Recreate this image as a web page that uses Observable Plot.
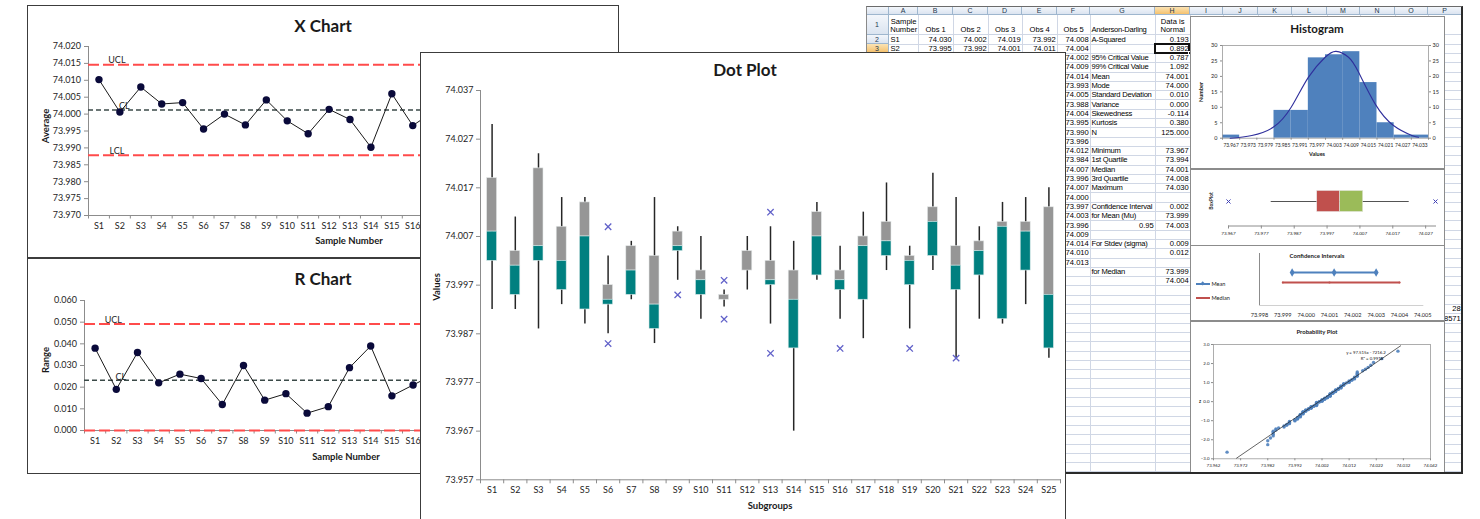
<!DOCTYPE html>
<html>
<head>
<meta charset="utf-8">
<title>SPC charts</title>
<script src="https://cdn.jsdelivr.net/npm/d3@7"></script>
<script src="https://cdn.jsdelivr.net/npm/@observablehq/plot@0.6"></script>
<style>
html,body{margin:0;padding:0;background:#fff;}
body{position:relative;width:1480px;height:519px;overflow:hidden;font-family:Lato,"Noto Sans",sans-serif;color:#1a1a1a;}
.panel{position:absolute;background:#fff;overflow:hidden;}
.panel>svg{position:absolute;left:0;top:0;}
.bd{position:absolute;left:0;top:0;right:0;bottom:0;box-sizing:border-box;pointer-events:none;}
.lbl{position:absolute;white-space:nowrap;line-height:1;transform:translate(-50%,-50%);}
.lbl.rot{transform:translate(-50%,-50%) rotate(-90deg);}
.lbl.lft{transform:translate(0,-50%);}
#sheet{position:absolute;left:866px;top:6.5px;width:596px;height:466.5px;overflow:hidden;background:#fff;font-family:"Liberation Sans",Arial,sans-serif;font-size:7.6px;color:#000;z-index:1;}
#sheet div{position:absolute;box-sizing:border-box;}
</style>
</head>
<body>
<div id="sheet"></div>
<script>
// ================= DATA =================
const subgroups = ["S1","S2","S3","S4","S5","S6","S7","S8","S9","S10","S11","S12","S13","S14","S15","S16","S17","S18","S19","S20","S21","S22","S23","S24","S25"];
// the control charts show tick labels only for the samples left of the overlapping Dot Plot
const controlTickLabels = ["S1","S2","S3","S4","S5","S6","S7","S8","S9","S10","S11","S12","S13","S14","S15","S16"];

// X chart (subgroup averages) and R chart (subgroup ranges)
const xbarAverages = [74.0102, 74.0006, 74.0080, 74.0030, 74.0034, 73.9956, 74.0000, 73.9968, 74.0042, 73.9980, 73.9942, 74.0014, 73.9984, 73.9902, 74.0060, 73.9966, 74.0008, 74.0074, 73.9982, 74.0092, 73.9998, 74.0016, 74.0024, 74.0052, 73.9982];
const rangeValues = [0.038, 0.019, 0.036, 0.022, 0.026, 0.024, 0.012, 0.030, 0.014, 0.017, 0.008, 0.011, 0.029, 0.039, 0.016, 0.021, 0.026, 0.018, 0.021, 0.020, 0.033, 0.019, 0.025, 0.022, 0.035];
const limitNames = ["UCL", "CL", "LCL"];
const xbarLimits = [74.0146, 74.0012, 73.9878];
const rangeLimits = [0.0492, 0.0232, 0.0];
const xbarTicks = [73.970, 73.975, 73.980, 73.985, 73.990, 73.995, 74.000, 74.005, 74.010, 74.015, 74.020];
const rangeTicks = [0.000, 0.010, 0.020, 0.030, 0.040, 0.050, 0.060];

// Dot plot (box per subgroup)
const dotWhiskerHigh = [74.030, 74.011, 74.024, 74.015, 74.015, 74.003, 74.006, 74.015, 74.009, 74.007, 73.996, 74.007, 74.009, 74.006, 74.014, 74.005, 74.012, 74.018, 74.005, 74.020, 74.015, 74.009, 74.014, 74.015, 74.017];
const dotQ3 = [74.019, 74.004, 74.021, 74.009, 74.014, 73.997, 74.005, 74.003, 74.008, 74.000, 73.995, 74.004, 74.002, 74.000, 74.012, 74.000, 74.007, 74.010, 74.003, 74.013, 74.005, 74.006, 74.010, 74.010, 74.013];
const dotMedian = [74.008, 74.001, 74.005, 74.002, 74.007, 73.994, 74.000, 73.993, 74.005, 73.998, 73.994, 74.000, 73.998, 73.994, 74.007, 73.998, 74.005, 74.006, 74.002, 74.010, 74.001, 74.004, 74.009, 74.008, 73.995];
const dotQ1 = [74.002, 73.995, 74.002, 73.996, 73.992, 73.993, 73.995, 73.988, 74.004, 73.995, 73.994, 74.000, 73.997, 73.984, 73.999, 73.996, 73.994, 74.003, 73.997, 74.003, 73.996, 73.999, 73.990, 74.000, 73.984];
const dotWhiskerLow = [73.992, 73.992, 73.988, 73.993, 73.989, 73.987, 73.994, 73.985, 73.998, 73.990, 73.9925, 73.996, 73.989, 73.967, 73.998, 73.990, 73.986, 74.000, 73.988, 74.000, 73.982, 73.990, 73.989, 73.993, 73.982];
const outlierSubgroups = ["S6", "S6", "S9", "S11", "S11", "S13", "S13", "S16", "S19", "S21"];
const outlierValues = [74.009, 73.985, 73.995, 73.998, 73.990, 74.012, 73.983, 73.984, 73.984, 73.982];
const dotTicks = [73.957, 73.967, 73.977, 73.987, 73.997, 74.007, 74.017, 74.027, 74.037];

// Spreadsheet
const sheetHeaders = ["Sample<br>Number", "Obs 1", "Obs 2", "Obs 3", "Obs 4", "Obs 5", "Anderson-Darling", "Data is<br>Normal"];
const sheetRowS1 = ["S1", "74.030", "74.002", "74.019", "73.992", "74.008"];
const sheetRowS2 = ["S2", "73.995", "73.992", "74.001", "74.011", "74.004"];
const obs5Column = ["74.008","74.004","74.002","74.009","74.014","73.993","74.005","73.988","74.004","73.995","73.990","73.996","74.012","73.984","74.007","73.996","74.007","74.000","73.997","74.003","73.996","74.009","74.014","74.010","74.013"];
const statLabels = ["A-Squared","","95% Critical Value","99% Critical Value","Mean","Mode","Standard Deviation","Variance","Skewedness","Kurtosis","N","","Minimum","1st Quartile","Median","3rd Quartile","Maximum","","Confidence Interval","for Mean (Mu)","0.95","","For Stdev (sigma)","","","for Median",""];
const statValues = ["0.193","0.892","0.787","1.092","74.001","74.000","0.010","0.000","-0.114","0.380","125.000","","73.967","73.994","74.001","74.008","74.030","","0.002","73.999","74.003","","0.009","0.012","","73.999","74.004"];
const sideCells = ["28", "8571"];

// All 125 observations, per subgroup (for the probability plot)
const subgroupValues = [
  [74.030, 74.002, 74.019, 73.992, 74.008], [73.995, 73.992, 74.001, 74.011, 74.004],
  [74.024, 74.021, 74.005, 73.988, 74.002], [74.015, 74.009, 74.002, 73.996, 73.993],
  [74.015, 74.007, 73.992, 73.989, 74.014], [74.009, 73.997, 73.994, 73.985, 73.993],
  [74.006, 74.000, 73.994, 73.995, 74.005], [74.015, 74.003, 73.993, 73.985, 73.988],
  [74.009, 74.008, 74.005, 73.995, 74.004], [74.007, 74.000, 73.998, 73.990, 73.995],
  [73.998, 73.995, 73.994, 73.994, 73.990], [74.007, 74.004, 74.000, 74.000, 73.996],
  [74.002, 73.998, 73.997, 73.983, 74.012], [74.006, 74.000, 73.994, 73.967, 73.984],
  [74.014, 74.012, 73.999, 73.998, 74.007], [74.005, 74.000, 73.998, 73.984, 73.996],
  [74.012, 74.005, 73.994, 73.986, 74.007], [74.018, 74.010, 74.006, 74.003, 74.000],
  [74.005, 74.003, 74.002, 73.984, 73.997], [74.020, 74.013, 74.010, 74.000, 74.003],
  [74.015, 74.005, 74.001, 73.982, 73.996], [74.006, 74.004, 73.999, 73.990, 74.009],
  [74.010, 74.009, 73.990, 73.989, 74.014], [74.015, 74.008, 74.000, 73.993, 74.010],
  [74.017, 73.995, 73.984, 73.982, 74.013]
];

// Histogram
const histBinLabels = ["73.967","73.973","73.979","73.985","73.991","73.997","74.003","74.009","74.015","74.021","74.027","74.033"];
const histCounts = [1, 0, 0, 9, 9, 26, 27, 28, 18, 5, 1, 1];
const normalCurveBin = [0.45, 1.71, 2.97, 4.0, 5.0, 5.98, 6.62, 7.34, 7.92, 8.89, 9.96, 11.03, 11.42];
const normalCurveCount = [0, 0.9, 3.6, 10.0, 19.7, 26.2, 28.1, 26.2, 21.4, 11.1, 4.1, 0.9, 0.3];
const histTicksY = [0, 5, 10, 15, 20, 25, 30];

// Box plot of all data
const boxOutliers = [73.967, 74.030];
const boxWhiskers = [73.980, 74.022];
const boxQuartiles = [73.994, 74.001, 74.008];
const boxTicks = [73.967, 73.977, 73.987, 73.997, 74.007, 74.017, 74.027];

// Confidence intervals
const ciSeries = ["Mean", "Median"];
const ciMean = [73.9994, 74.0012, 74.0030];
const ciMedian = [73.999, 74.001, 74.004];
const ciTicks = [73.998, 73.999, 74.000, 74.001, 74.002, 74.003, 74.004, 74.005];

// Probability plot
const probTicksX = [73.962, 73.972, 73.982, 73.992, 74.002, 74.012, 74.022, 74.032, 74.042];
const probTicksZ = [-3, -2, -1, 0, 1, 2, 3];
const trendSlope = 97.515, trendIntercept = -7216.2;
const trendRange = [73.9705, 74.031];

// ================= HELPERS =================
const fmt3 = d3.format(".3f");
const baseStyle = {background: "transparent", fontFamily: "Lato, 'Noto Sans', sans-serif", overflow: "visible", maxWidth: "none", color: "#1e1e1e"};

function panel(x, y, w, h, z) {
  const d = document.createElement("div");
  d.className = "panel";
  d.style.cssText = `left:${x}px;top:${y}px;width:${w}px;height:${h}px;z-index:${z};`;
  d._x = x; d._y = y;
  document.body.appendChild(d);
  return d;
}
function border(host, css) {
  const b = document.createElement("div");
  b.className = "bd"; b.style.cssText = css;
  host.appendChild(b);
}
function label(host, x, y, html, css = "", cls = "") {
  const d = document.createElement("div");
  d.className = "lbl " + cls;
  d.style.cssText = `left:${x - (host._x || 0)}px;top:${y - (host._y || 0)}px;` + css;
  d.innerHTML = html;
  host.appendChild(d);
  return d;
}

// ================= SPREADSHEET =================
const sheet = document.getElementById("sheet");
const SX = 866, SY = 6.5;
const colEdges = [866, 889, 918, 953, 988, 1022, 1057, 1090, 1155, 1190, 1223, 1258, 1292, 1327, 1360, 1395, 1428, 1462];
const colLetters = ["", "A","B","C","D","E","F","G","H","I","J","K","L","M","N","O","P"];
const rowEdge = r => r <= 0 ? 6.5 : r === 1 ? 15 : 34.8 + (r - 2) * 9.3;
const lastRow = 48;
const blueGrad = "linear-gradient(#f3f6fb,#dbe4f0)";
const orangeGrad = "linear-gradient(#fbe3b4,#f5c26f)";
function sdiv(x, y, w, h, css, html) {
  const d = document.createElement("div");
  d.style.cssText = `left:${x - SX}px;top:${y - SY}px;width:${w}px;height:${h}px;` + (css || "");
  if (html != null) d.innerHTML = html;
  sheet.appendChild(d);
  return d;
}
for (let c = 2; c < colEdges.length; c++) sdiv(colEdges[c] - 0.5, 15, 1, 460, "background:#d0d7e5;");
for (let r = 2; r <= lastRow + 1; r++) sdiv(889, rowEdge(r) - 0.5, 1462 - 889, 1, "background:#d0d7e5;");
for (let c = 0; c < colLetters.length; c++) {
  const sel = colLetters[c] === "H";
  sdiv(colEdges[c], 6.5, colEdges[c + 1] - colEdges[c], 8.5,
    `background:${sel ? orangeGrad : blueGrad};border-right:1px solid #9eb6ce;border-bottom:1px solid #9eb6ce;text-align:center;font-size:7px;line-height:8px;color:#24384f;`,
    colLetters[c]);
}
for (let r = 1; r <= lastRow; r++) {
  const h = rowEdge(r + 1) - rowEdge(r);
  sdiv(866, rowEdge(r), 23, h,
    `background:${r === 3 ? orangeGrad : blueGrad};border-right:1px solid #9eb6ce;border-bottom:1px solid #9eb6ce;text-align:center;font-size:7px;line-height:${h}px;color:#24384f;`,
    String(r));
}
function put(c, r, text, align) {
  const x0 = colEdges[c], x1 = colEdges[c + 1], y0 = rowEdge(r), y1 = rowEdge(r + 1);
  const jc = align === "right" ? "flex-end" : align === "center" ? "center" : "flex-start";
  const tight = (c === 7 && align === "left") ? "letter-spacing:-0.25px;" : "";
  sdiv(x0, y0, x1 - x0, y1 - y0,
    `display:flex;align-items:flex-end;justify-content:${jc};text-align:${align};padding:0 1.2px 0.4px 1.5px;white-space:nowrap;overflow:hidden;line-height:1.08;` + tight,
    text);
}
sheetHeaders.forEach((t, i) => put(i + 1, 1, t, i === 6 ? "left" : "center"));
[sheetRowS1, sheetRowS2].forEach((row, k) => row.forEach((t, i) => put(i + 1, k + 2, t, i === 0 ? "left" : "right")));
obs5Column.forEach((t, i) => { if (i >= 2) put(6, i + 2, t, "right"); });
statLabels.forEach((t, i) => { if (t) put(7, i + 2, t, /^[0-9.]+$/.test(t) ? "right" : "left"); });
statValues.forEach((t, i) => { if (t) put(8, i + 2, t, "right"); });
sideCells.forEach((t, i) => put(16, 31 + i, t, "right"));
sdiv(colEdges[8] - 1, rowEdge(3) - 1, colEdges[9] - colEdges[8] + 1, rowEdge(4) - rowEdge(3) + 1.5, "border:2px solid #111;");
sdiv(colEdges[9] - 2.5, rowEdge(4) - 2, 4, 4, "background:#111;border:1px solid #fff;");
const sheetEdge = document.createElement("div");
sheetEdge.style.cssText = "position:absolute;left:866px;top:5.5px;width:597px;height:468.5px;box-sizing:border-box;border-top:1px solid #6b6b6b;border-left:1px solid #8a8a8a;border-right:2px solid #2a2a2a;border-bottom:2px solid #2a2a2a;z-index:3;pointer-events:none;";
document.body.appendChild(sheetEdge);

// ================= RIGHT SIDE CHARTS =================
// Histogram
{
  const P = {x: 1190, y: 16, w: 255, h: 153, ml: 32, mr: 17, mt: 29, mb: 31.3};
  const host = panel(P.x, P.y, P.w, P.h, 2);
  const bins = histCounts.map((c, i) => ({b0: i, b1: i + 1, c}));
  const curve = normalCurveBin.map((b, i) => ({b, c: normalCurveCount[i]}));
  host.appendChild(Plot.plot({
    width: P.w, height: P.h, marginLeft: P.ml, marginRight: P.mr, marginTop: P.mt, marginBottom: P.mb,
    style: {...baseStyle, fontSize: "5.5px"},
    x: {domain: [0, histBinLabels.length], axis: null},
    y: {domain: [0, 30], axis: null},
    marks: [
      Plot.rectY(bins, {x1: "b0", x2: "b1", y: "c", fill: "#4f81bd"}),
      Plot.frame({stroke: "#9a9a9a", strokeWidth: 0.8}),
      Plot.line(curve, {x: "b", y: "c", stroke: "#2f2f9c", strokeWidth: 1.1, curve: "natural"}),
      Plot.axisY({anchor: "left", ticks: histTicksY, tickSize: 2, tickPadding: 3, fontSize: 5.5, stroke: "#8c8c8c", label: null}),
      Plot.axisY({anchor: "right", ticks: histTicksY, tickSize: 2, tickPadding: 2, fontSize: 5.5, stroke: "#8c8c8c", label: null}),
      Plot.axisX({ticks: d3.range(0, histBinLabels.length + 1), tickSize: 2, tickFormat: () => "", stroke: "#8c8c8c", label: null}),
      Plot.axisX({ticks: histBinLabels.map((_, i) => i + 0.5), tickFormat: (d) => histBinLabels[Math.floor(d)], tickSize: 0, tickPadding: 5, fontSize: 4.9, label: null})
    ]
  }));
  label(host, 1317, 29, "Histogram", "font-weight:bold;font-size:11.5px;");
  label(host, 1317, 155, "Values", "font-weight:bold;font-size:5.5px;");
  label(host, 1202, 92, "Number", "font-weight:bold;font-size:5.5px;", "rot");
  border(host, "border:1px solid #8c8c8c;");
}
// Box plot
{
  const P = {x: 1190, y: 168.5, w: 255, h: 77, ml: 38, mr: 10, mt: 21.5, mb: 20.5};
  const host = panel(P.x, P.y, P.w, P.h, 2);
  const box = [{name: "BoxPlot", lo: boxWhiskers[0], hi: boxWhiskers[1], q1: boxQuartiles[0], med: boxQuartiles[1], q3: boxQuartiles[2]}];
  const outs = boxOutliers.map(v => ({name: "BoxPlot", v}));
  host.appendChild(Plot.plot({
    width: P.w, height: P.h, marginLeft: P.ml, marginRight: P.mr, marginTop: P.mt, marginBottom: P.mb,
    style: {...baseStyle, fontSize: "4.6px"},
    x: {domain: [boxOutliers[0], boxOutliers[1]], axis: null},
    y: {type: "band", domain: ["BoxPlot"], padding: 0, round: false, axis: null},
    marks: [
      Plot.frame({anchor: "bottom", stroke: "#8c8c8c"}),
      Plot.axisX({ticks: boxTicks, tickFormat: fmt3, tickSize: 3, tickPadding: 2.5, fontSize: 4.6, stroke: "#8c8c8c", label: null}),
      Plot.ruleY(box, {y: "name", x1: "lo", x2: "hi", stroke: "#404040", strokeWidth: 0.9, dy: -7}),
      Plot.barX(box, {y: "name", x1: "q1", x2: "med", fill: "#c0504d", stroke: "#e8e8e8", strokeWidth: 0.5, insetBottom: 14}),
      Plot.barX(box, {y: "name", x1: "med", x2: "q3", fill: "#9bbb59", stroke: "#e8e8e8", strokeWidth: 0.5, insetBottom: 14}),
      Plot.dot(outs, {x: "v", y: "name", symbol: "times", r: 2, stroke: "#3f3fb5", strokeWidth: 1, dy: -7})
    ]
  }));
  label(host, 1211, 201, "BoxPlot", "font-weight:bold;font-size:5px;", "rot");
  border(host, "border:1px solid #8c8c8c;");
}
// Confidence intervals
{
  const P = {x: 1190, y: 245, w: 255, h: 76, ml: 69, mr: 22.7, mt: 8, mb: 16};
  const host = panel(P.x, P.y, P.w, P.h, 2);
  const meanRows = ciMean.map(v => ({s: "Mean", v}));
  const medRows = ciMedian.map(v => ({s: "Median", v}));
  host.appendChild(Plot.plot({
    width: P.w, height: P.h, marginLeft: P.ml, marginRight: P.mr, marginTop: P.mt, marginBottom: P.mb,
    style: {...baseStyle, fontSize: "5.6px"},
    x: {domain: [ciTicks[0], ciTicks[ciTicks.length - 1]], axis: null},
    y: {type: "point", domain: ciSeries, range: [21, 42], axis: null},
    marks: [
      Plot.frame({anchor: "left", stroke: "#8c8c8c"}),
      Plot.frame({anchor: "bottom", stroke: "#d0d0d0"}),
      Plot.axisX({ticks: ciTicks, tickFormat: fmt3, tickSize: 0, tickPadding: 8, fontSize: 5.6, label: null}),
      Plot.line(meanRows, {x: "v", y: "s", stroke: "#4f81bd", strokeWidth: 1.8}),
      Plot.line(medRows, {x: "v", y: "s", stroke: "#c0504d", strokeWidth: 1.8}),
      Plot.dot(meanRows, {x: "v", y: "s", symbol: "diamond", r: 2.6, fill: "#4f81bd"}),
      Plot.dot(medRows, {x: "v", y: "s", r: 1.1, fill: "#c0504d"})
    ]
  }));
  label(host, 1317, 256, "Confidence Intervals", "font-weight:bold;font-size:6px;");
  [["Mean", "#4f81bd", 284, true], ["Median", "#c0504d", 298, false]].forEach(([t, col, y, diamond]) => {
    const l = document.createElement("div");
    l.style.cssText = `position:absolute;left:${1196 - P.x}px;top:${y - P.y - 0.8}px;width:14px;height:1.6px;background:${col};`;
    host.appendChild(l);
    if (diamond) {
      const dm = document.createElement("div");
      dm.style.cssText = `position:absolute;left:${1201.3 - P.x}px;top:${y - P.y - 1.7}px;width:3.4px;height:3.4px;background:${col};transform:rotate(45deg);`;
      host.appendChild(dm);
    }
    label(host, 1211.5, y, t, "font-size:5.6px;", "lft");
  });
  border(host, "border:1px solid #8c8c8c;");
}
// Probability plot
{
  const P = {x: 1190, y: 321, w: 255, h: 152, ml: 23, mr: 15, mt: 23, mb: 14.7};
  const host = panel(P.x, P.y, P.w, P.h, 2);
  function normInv(p) {
    const a = [-39.69683028665376, 220.9460984245205, -275.9285104469687, 138.3577518672690, -30.66479806614716, 2.506628277459239];
    const b = [-54.47609879822406, 161.5858368580409, -155.6989798598866, 66.80131188771972, -13.28068155288572];
    const c = [-0.007784894002430293, -0.3223964580411365, -2.400758277161838, -2.549732539343734, 4.374664141464968, 2.938163982698783];
    const d = [0.007784695709041462, 0.3224671290700398, 2.445134137142996, 3.754408661907416];
    const pl = 0.02425;
    if (p < pl) { const q = Math.sqrt(-2 * Math.log(p)); return (((((c[0]*q+c[1])*q+c[2])*q+c[3])*q+c[4])*q+c[5]) / ((((d[0]*q+d[1])*q+d[2])*q+d[3])*q+1); }
    if (p > 1 - pl) { const q = Math.sqrt(-2 * Math.log(1 - p)); return -(((((c[0]*q+c[1])*q+c[2])*q+c[3])*q+c[4])*q+c[5]) / ((((d[0]*q+d[1])*q+d[2])*q+d[3])*q+1); }
    const q = p - 0.5, r = q * q;
    return (((((a[0]*r+a[1])*r+a[2])*r+a[3])*r+a[4])*r+a[5])*q / (((((b[0]*r+b[1])*r+b[2])*r+b[3])*r+b[4])*r+1);
  }
  const sorted = subgroupValues.flat().sort(d3.ascending);
  const probRows = sorted.map((v, i) => ({v, z: normInv((i + 0.5) / sorted.length)}));
  const trend = trendRange.map(v => ({v, z: trendSlope * v + trendIntercept}));
  host.appendChild(Plot.plot({
    width: P.w, height: P.h, marginLeft: P.ml, marginRight: P.mr, marginTop: P.mt, marginBottom: P.mb,
    style: {...baseStyle, fontSize: "4.4px"},
    x: {domain: [probTicksX[0], probTicksX[probTicksX.length - 1]], axis: null},
    y: {domain: [-3, 3], axis: null},
    marks: [
      Plot.frame({stroke: "#9a9a9a", strokeWidth: 0.8}),
      Plot.axisY({ticks: probTicksZ, tickSize: 2, tickPadding: 2, fontSize: 4.4, stroke: "#8c8c8c", label: null}),
      Plot.axisX({ticks: probTicksX, tickFormat: fmt3, tickSize: 2, tickPadding: 3, fontSize: 4.4, stroke: "#8c8c8c", label: null}),
      Plot.dot(probRows, {x: "v", y: "z", r: 1.7, fill: "#4f81bd", fillOpacity: 0.9}),
      Plot.line(trend, {x: "v", y: "z", stroke: "#222", strokeWidth: 0.7})
    ]
  }));
  label(host, 1317, 332, "Probability Plot", "font-weight:bold;font-size:6px;");
  label(host, 1200, 401, "z", "font-weight:bold;font-size:4.6px;");
  label(host, 1366, 353, "y = 97.515x - 7216.2", "font-size:4.3px;");
  label(host, 1372, 359, "R² = 0.9915", "font-size:4.3px;");
  border(host, "border:1px solid #8c8c8c;");
}

// ================= CONTROL CHARTS =================
function controlChart(host, P, values, limits, ticks, showLCLText, textDy) {
  const step = (P.w - P.ml - P.mr) / subgroups.length;
  const rows = subgroups.map((s, i) => ({sub: s, v: values[i]}));
  const lim = limitNames.map((n, i) => ({name: n, v: limits[i]}));
  const red = lim.filter(d => d.name !== "CL"), cl = lim.filter(d => d.name === "CL");
  host.appendChild(Plot.plot({
    width: P.w, height: P.h, marginLeft: P.ml, marginRight: P.mr, marginTop: P.mt, marginBottom: P.mb,
    style: {...baseStyle, fontSize: "9px"},
    x: {type: "band", domain: subgroups, padding: 0, round: false, axis: null},
    y: {domain: [ticks[0], ticks[ticks.length - 1]], axis: null},
    marks: [
      Plot.frame({anchor: "left", stroke: "#8c8c8c"}),
      Plot.frame({anchor: "bottom", stroke: "#8c8c8c"}),
      Plot.axisY({ticks, tickFormat: fmt3, tickSize: 4, tickPadding: 3.5, stroke: "#8c8c8c", label: null}),
      Plot.axisX({ticks: controlTickLabels, tickSize: 0, tickPadding: 7.5, label: null}),
      Plot.axisX({tickSize: 3.5, tickFormat: () => "", dx: -step / 2, stroke: "#8c8c8c", label: null}),
      Plot.ruleY(red, {y: "v", stroke: "#ff4b4b", strokeWidth: 2, strokeDasharray: "11,4"}),
      Plot.ruleY(cl, {y: "v", stroke: "#3b4a48", strokeWidth: 1.4, strokeDasharray: "5,3"}),
      Plot.line(rows, {x: "sub", y: "v", stroke: "#1a1a1a", strokeWidth: 1}),
      Plot.dot(rows, {x: "sub", y: "v", r: 3.7, fill: "#0a0a3a"}),
      Plot.text(red.filter(d => showLCLText || d.name === "UCL"), {x: () => subgroups[1], y: "v", text: "name", dy: textDy, dx: -3, fontSize: 9}),
      Plot.text(cl, {x: () => subgroups[1], y: "v", text: "name", dy: textDy, dx: 4.5, fontSize: 9})
    ]
  }));
}
{
  const P = {x: 27, y: 5, w: 592, h: 253, ml: 61, mr: 8, mt: 41, mb: 43};
  const host = panel(P.x, P.y, P.w, P.h, 3);
  controlChart(host, P, xbarAverages, xbarLimits, xbarTicks, true, -4.3);
  label(host, 323, 25, "X Chart", "font-weight:bold;font-size:17px;");
  label(host, 46, 126, "Average", "font-weight:bold;font-size:9.5px;", "rot");
  label(host, 349, 241, "Sample Number", "font-weight:bold;font-size:9.5px;");
  border(host, "border:1.5px solid #3c3c3c;");
}
{
  const P = {x: 27, y: 258, w: 592, h: 216, ml: 57, mr: 5, mt: 42, mb: 44};
  const host = panel(P.x, P.y, P.w, P.h, 3);
  controlChart(host, P, rangeValues, rangeLimits, rangeTicks, false, -3.3);
  label(host, 323, 278, "R Chart", "font-weight:bold;font-size:17px;");
  label(host, 46, 360, "Range", "font-weight:bold;font-size:9.5px;", "rot");
  label(host, 346, 457, "Sample Number", "font-weight:bold;font-size:9.5px;");
  border(host, "border:1.5px solid #3c3c3c;");
}

// ================= DOT PLOT =================
{
  const P = {x: 420, y: 52, w: 646, h: 470, ml: 60, mr: 6, mt: 38, mb: 42.7};
  const host = panel(P.x, P.y, P.w, P.h, 5);
  const step = (P.w - P.ml - P.mr) / subgroups.length;
  const inset = step * 0.285;
  const rows = subgroups.map((s, i) => ({sub: s, whi: dotWhiskerHigh[i], q3: dotQ3[i], med: dotMedian[i], q1: dotQ1[i], wlo: dotWhiskerLow[i]}));
  const outs = outlierSubgroups.map((s, i) => ({sub: s, v: outlierValues[i]}));
  host.appendChild(Plot.plot({
    width: P.w, height: P.h, marginLeft: P.ml, marginRight: P.mr, marginTop: P.mt, marginBottom: P.mb,
    style: {...baseStyle, fontSize: "9px"},
    x: {type: "band", domain: subgroups, padding: 0, round: false, axis: null},
    y: {domain: [dotTicks[0], dotTicks[dotTicks.length - 1]], axis: null},
    marks: [
      Plot.frame({anchor: "left", stroke: "#8c8c8c"}),
      Plot.frame({anchor: "bottom", stroke: "#8c8c8c"}),
      Plot.axisY({ticks: dotTicks, tickFormat: fmt3, tickSize: 4, tickPadding: 3, stroke: "#8c8c8c", label: null}),
      Plot.axisX({tickSize: 0, tickPadding: 7, label: null}),
      Plot.axisX({tickSize: 4, tickFormat: () => "", dx: -step / 2, stroke: "#8c8c8c", label: null}),
      Plot.axisX({ticks: [subgroups[subgroups.length - 1]], tickSize: 4, tickFormat: () => "", dx: step / 2, stroke: "#8c8c8c", label: null}),
      Plot.ruleX(rows, {x: "sub", y1: "wlo", y2: "whi", stroke: "#262626", strokeWidth: 1.5}),
      Plot.barY(rows, {x: "sub", y1: "med", y2: "q3", fill: "#969696", stroke: "#e4e8e8", strokeWidth: 0.6, insetLeft: inset, insetRight: inset}),
      Plot.barY(rows, {x: "sub", y1: "q1", y2: "med", fill: "#008080", stroke: "#d8e8e8", strokeWidth: 0.6, insetLeft: inset, insetRight: inset}),
      Plot.dot(outs, {x: "sub", y: "v", symbol: "times", r: 3, stroke: "#6161c9", strokeWidth: 1.3})
    ]
  }));
  label(host, 745, 69, "Dot Plot", "font-weight:bold;font-size:17px;");
  label(host, 437, 287, "Values", "font-weight:bold;font-size:9.5px;", "rot");
  label(host, 770, 506, "Subgroups", "font-weight:bold;font-size:9.5px;");
  border(host, "border:1.5px solid #3c3c3c;");
}
</script>
</body>
</html>
